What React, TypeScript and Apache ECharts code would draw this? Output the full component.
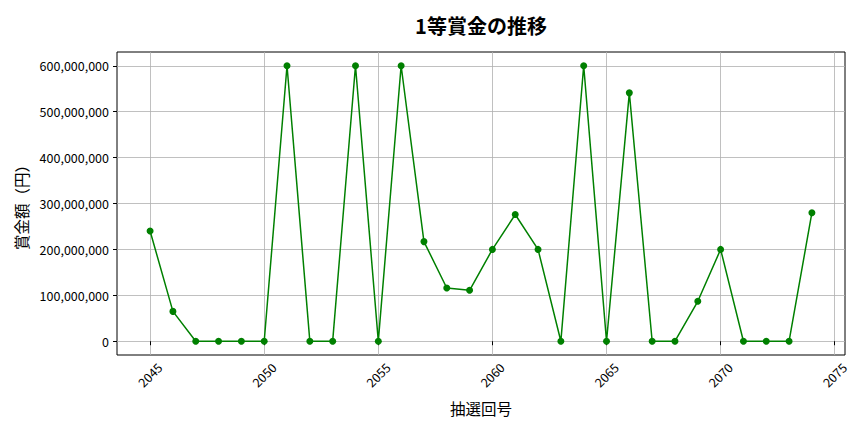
import React, { useEffect, useRef } from "react";
import * as echarts from "echarts";

const draws = [2045, 2046, 2047, 2048, 2049, 2050, 2051, 2052, 2053, 2054, 2055, 2056, 2057, 2058, 2059, 2060, 2061, 2062, 2063, 2064, 2065, 2066, 2067, 2068, 2069, 2070, 2071, 2072, 2073, 2074];
const prizes = [240000000, 65000000, 0, 0, 0, 0, 600000000, 0, 0, 600000000, 0, 600000000, 217000000, 116000000, 111000000, 200000000, 276000000, 200000000, 0, 600000000, 0, 541000000, 0, 0, 87000000, 200000000, 0, 0, 0, 280000000];
const xTicks = [2045, 2050, 2055, 2060, 2065, 2070, 2075];
const yTicks = [0, 100000000, 200000000, 300000000, 400000000, 500000000, 600000000];

const FONT = "'Noto Sans CJK JP', 'Noto Sans', sans-serif";

export default function App() {
  const ref = useRef<HTMLDivElement>(null);
  useEffect(() => {
    const chart = echarts.init(ref.current!, undefined, { renderer: "svg" });
    chart.setOption({
      animation: false,
      textStyle: { fontFamily: FONT },
      graphic: [
        {
          type: "text",
          x: 481,
          y: 25,
          style: {
            text: "1等賞金の推移",
            textAlign: "center",
            textVerticalAlign: "middle",
            fontFamily: FONT,
            fontSize: 20,
            fontWeight: "bold",
            fill: "#000",
          },
        },
      ],
      grid: { left: 117, right: 19, top: 52, bottom: 77, show: true, borderColor: "#000", borderWidth: 1, backgroundColor: "transparent" },
      xAxis: {
        type: "value",
        min: 2043.55,
        max: 2075.45,
        name: "抽選回号",
        nameLocation: "middle",
        nameGap: 45,
        nameTextStyle: { fontFamily: FONT, fontSize: 15.5, color: "#000" },
        axisLine: { show: false },
        axisTick: { show: true, length: 4, lineStyle: { color: "#000" }, customValues: xTicks },
        axisLabel: {
          customValues: xTicks,
          rotate: 45,
          align: "center",
          verticalAlign: "middle",
          margin: 20,
          fontFamily: FONT,
          fontSize: 12.5,
          color: "#000",
          formatter: (v: number) => String(v),
        },
        splitLine: { show: true, lineStyle: { color: "#b0b0b0", width: 0.8 } },
      },
      yAxis: {
        type: "value",
        min: -30000000,
        max: 630000000,
        name: "賞金額（円）",
        nameLocation: "middle",
        nameGap: 87,
        nameTextStyle: { fontFamily: FONT, fontSize: 15.5, color: "#000" },
        axisLine: { show: false },
        axisTick: { show: true, length: 4, lineStyle: { color: "#000" }, customValues: yTicks },
        axisLabel: {
          customValues: yTicks,
          margin: 8,
          fontFamily: FONT,
          fontSize: 12.5,
          color: "#000",
          formatter: (v: number) => v.toLocaleString("en-US"),
        },
        splitLine: { show: true, lineStyle: { color: "#b0b0b0", width: 0.8 } },
      },
      series: [
        {
          type: "line",
          data: draws.map((d, i) => [d, prizes[i]]),
          symbol: "circle",
          symbolSize: 7,
          itemStyle: { color: "#008000" },
          lineStyle: { color: "#008000", width: 1.5 },
        },
      ],
    });
    return () => chart.dispose();
  }, []);
  return <div ref={ref} style={{ width: 864, height: 432, position: "absolute", left: 0, top: 0 }} />;
}
